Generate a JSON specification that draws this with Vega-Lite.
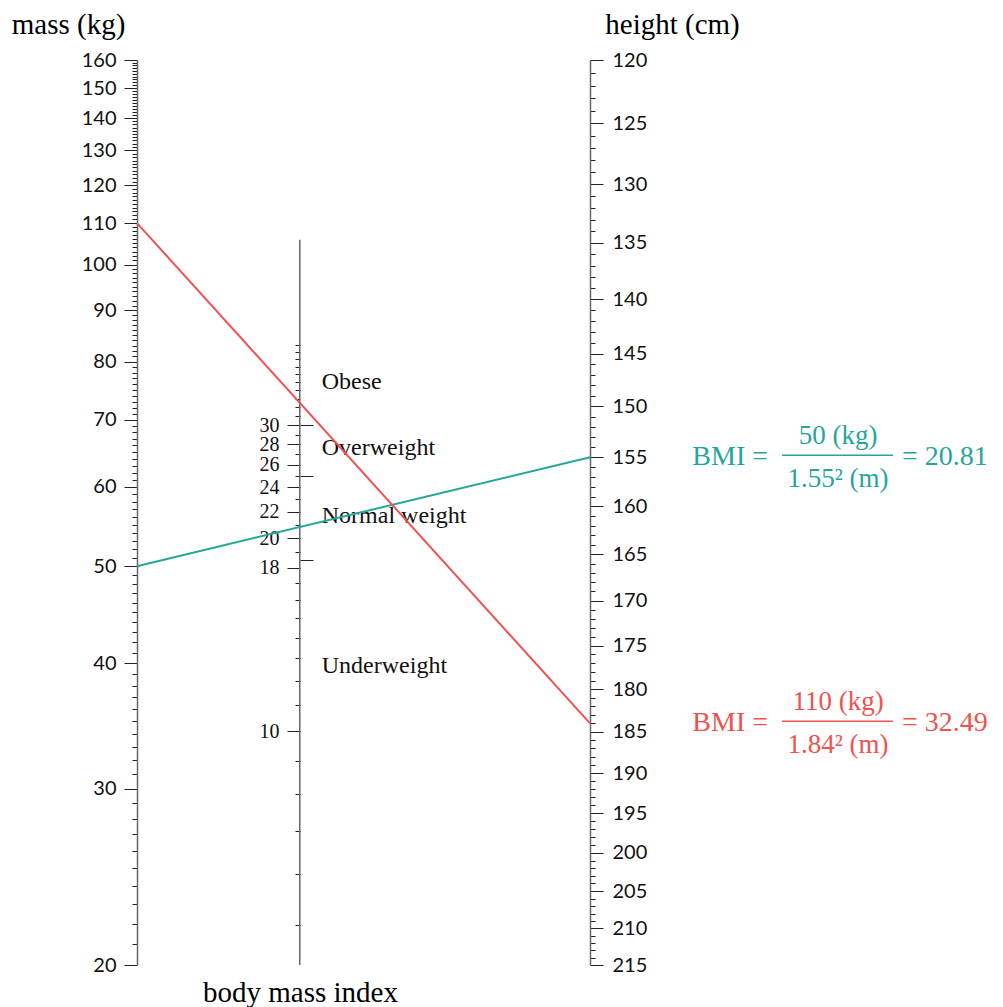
{
  "$schema": "https://vega.github.io/schema/vega-lite/v6.json",
  "width": 453,
  "height": 905,
  "autosize": "none",
  "padding": {"left": 137, "top": 60, "right": 413, "bottom": 42},
  "background": "white",
  "config": {
    "view": {"stroke": null},
    "axis": {"grid": false, "labelOverlap": false, "domainColor": "#666", "domainWidth": 1.5, "tickColor": "#222", "tickWidth": 1, "labelColor": "#111", "titleColor": "#000", "titleFont": "Liberation Serif", "titleFontWeight": "normal", "titleFontSize": 29}
  },
  "datasets": {
    "lines": [
      {"who": "a", "pos": 0, "mass": 50},
      {"who": "a", "pos": 1, "mass": 64.23},
      {"who": "b", "pos": 0, "mass": 110},
      {"who": "b", "pos": 1, "mass": 34.85}
    ],
    "cats": [
      {"label": "Obese", "bmi": 35},
      {"label": "Overweight", "bmi": 27.6},
      {"label": "Normal weight", "bmi": 21.65},
      {"label": "Underweight", "bmi": 12.64}
    ],
    "formulas": [
      {"who": "a", "height": 155, "lhs": "BMI =", "num": "50 (kg)", "den": "1.55² (m)", "rhs": "= 20.81"},
      {"who": "b", "height": 184, "lhs": "BMI =", "num": "110 (kg)", "den": "1.84² (m)", "rhs": "= 32.49"}
    ]
  },
  "resolve": {"scale": {"y": "independent"}, "axis": {"y": "independent"}},
  "layer": [
    {
      "data": {"values": [{}]},
      "mark": {"type": "rule", "color": "#666", "strokeWidth": 1.5},
      "encoding": {
        "x": {"datum": 0.35934, "type": "quantitative", "scale": {"domain": [0, 1]}, "axis": null},
        "y": {"datum": 4.3267, "type": "quantitative", "scale": {"type": "log", "domain": [4.3267, 111.11]},
          "axis": {"orient": "left", "offset": -163, "domain": false, "format": "d",
            "values": [5,6,7,8,9,10,11,12,13,14,15,16,17,18,19,20,21,22,23,24,25,26,27,28,29,30,31,32,33,34,35,36,37,38,39,40],
            "labelExpr": "indexof([10,18,20,22,24,26,28,30], datum.value) >= 0 ? datum.label : ''",
            "tickSize": {"condition": {"test": "indexof([10,18,20,22,24,26,28,30], datum.value) >= 0", "value": 13}, "value": 5},
            "labelFont": "Liberation Serif", "labelFontSize": 20, "labelPadding": 8,
            "title": "body mass index", "titleAngle": 0, "titleX": 0, "titleY": 941, "titleAlign": "center", "titleBaseline": "alphabetic"}},
        "y2": {"datum": 58.3}
      }
    },
    {
      "data": {"name": "cats"},
      "mark": {"type": "text", "align": "left", "baseline": "middle", "dx": 22, "font": "Liberation Serif", "fontSize": 24, "color": "#111"},
      "encoding": {
        "x": {"datum": 0.35934, "type": "quantitative", "axis": null},
        "y": {"field": "bmi", "type": "quantitative", "scale": {"type": "log", "domain": [4.3267, 111.11]},
          "axis": {"orient": "right", "offset": -290, "domain": false, "labels": false, "values": [18.5, 25, 30], "tickSize": 13, "title": null}},
        "text": {"field": "label"}
      }
    },
    {
      "data": {"name": "lines"},
      "mark": {"type": "line", "strokeWidth": 2},
      "encoding": {
        "x": {"field": "pos", "type": "quantitative", "scale": {"domain": [0, 1]}, "axis": null},
        "y": {"field": "mass", "type": "quantitative", "scale": {"type": "log", "domain": [20, 160]},
          "axis": {"orient": "left", "format": "d",
            "values": [20,21,22,23,24,25,26,27,28,29,30,31,32,33,34,35,36,37,38,39,40,41,42,43,44,45,46,47,48,49,50,51,52,53,54,55,56,57,58,59,60,61,62,63,64,65,66,67,68,69,70,71,72,73,74,75,76,77,78,79,80,81,82,83,84,85,86,87,88,89,90,91,92,93,94,95,96,97,98,99,100,101,102,103,104,105,106,107,108,109,110,111,112,113,114,115,116,117,118,119,120,121,122,123,124,125,126,127,128,129,130,131,132,133,134,135,136,137,138,139,140,141,142,143,144,145,146,147,148,149,150,151,152,153,154,155,156,157,158,159,160],
            "labelExpr": "datum.value % 10 === 0 ? datum.label : ''",
            "tickSize": {"condition": {"test": "datum.value % 10 === 0", "value": 13}, "value": 5},
            "labelFont": "Lato", "labelFontSize": 20, "labelPadding": 8,
            "title": "mass (kg)", "titleAngle": 0, "titleX": -69, "titleY": -27, "titleAlign": "center", "titleBaseline": "alphabetic"}},
        "color": {"field": "who", "type": "nominal", "scale": {"domain": ["a", "b"], "range": ["#26a69a", "#ef5350"]}, "legend": null}
      }
    },
    {
      "data": {"name": "formulas"},
      "mark": {"type": "text", "align": "right", "baseline": "middle", "dx": 178, "font": "Liberation Serif", "fontSize": 28},
      "encoding": {
        "x": {"datum": 1, "type": "quantitative", "axis": null},
        "y": {"field": "height", "type": "quantitative", "scale": {"type": "log", "domain": [120, 215], "reverse": true},
          "axis": {"orient": "right", "format": "d",
            "values": [120,121,122,123,124,125,126,127,128,129,130,131,132,133,134,135,136,137,138,139,140,141,142,143,144,145,146,147,148,149,150,151,152,153,154,155,156,157,158,159,160,161,162,163,164,165,166,167,168,169,170,171,172,173,174,175,176,177,178,179,180,181,182,183,184,185,186,187,188,189,190,191,192,193,194,195,196,197,198,199,200,201,202,203,204,205,206,207,208,209,210,211,212,213,214,215],
            "labelExpr": "datum.value % 5 === 0 ? datum.label : ''",
            "tickSize": {"condition": {"test": "datum.value % 5 === 0", "value": 13}, "value": 5},
            "labelFont": "Lato", "labelFontSize": 20, "labelPadding": 9,
            "title": "height (cm)", "titleAngle": 0, "titleX": 82, "titleY": -27, "titleAlign": "center", "titleBaseline": "alphabetic"}},
        "text": {"field": "lhs"},
        "color": {"field": "who", "type": "nominal", "legend": null}
      }
    },
    {
      "data": {"name": "formulas"},
      "mark": {"type": "text", "align": "center", "baseline": "middle", "dx": 248, "dy": -21, "font": "Liberation Serif", "fontSize": 27},
      "encoding": {
        "x": {"datum": 1, "type": "quantitative", "axis": null},
        "y": {"field": "height", "type": "quantitative", "scale": {"type": "log", "domain": [120, 215], "reverse": true}, "axis": null},
        "text": {"field": "num"},
        "color": {"field": "who", "type": "nominal", "legend": null}
      }
    },
    {
      "data": {"name": "formulas"},
      "mark": {"type": "text", "align": "center", "baseline": "middle", "dx": 248, "dy": 22, "font": "Liberation Serif", "fontSize": 27},
      "encoding": {
        "x": {"datum": 1, "type": "quantitative", "axis": null},
        "y": {"field": "height", "type": "quantitative", "scale": {"type": "log", "domain": [120, 215], "reverse": true}, "axis": null},
        "text": {"field": "den"},
        "color": {"field": "who", "type": "nominal", "legend": null}
      }
    },
    {
      "data": {"name": "formulas"},
      "mark": {"type": "text", "align": "left", "baseline": "middle", "dx": 312, "font": "Liberation Serif", "fontSize": 28},
      "encoding": {
        "x": {"datum": 1, "type": "quantitative", "axis": null},
        "y": {"field": "height", "type": "quantitative", "scale": {"type": "log", "domain": [120, 215], "reverse": true}, "axis": null},
        "text": {"field": "rhs"},
        "color": {"field": "who", "type": "nominal", "legend": null}
      }
    },
    {
      "data": {"name": "formulas"},
      "mark": {"type": "rule", "strokeWidth": 1.5, "xOffset": 192, "x2Offset": 303, "yOffset": -2},
      "encoding": {
        "x": {"datum": 1, "type": "quantitative", "axis": null},
        "x2": {"datum": 1},
        "y": {"field": "height", "type": "quantitative", "scale": {"type": "log", "domain": [120, 215], "reverse": true}, "axis": null},
        "color": {"field": "who", "type": "nominal", "legend": null}
      }
    }
  ]
}
